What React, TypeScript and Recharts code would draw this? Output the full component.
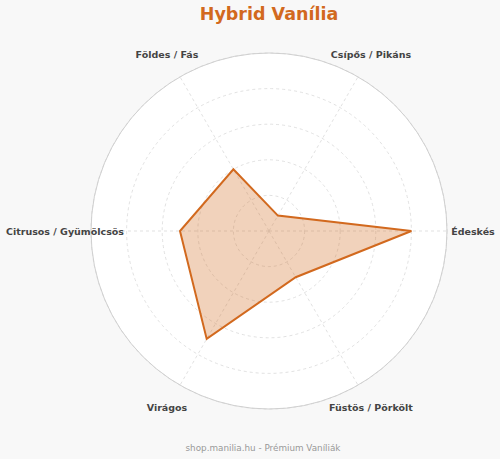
import { RadarChart, Radar, PolarGrid, PolarAngleAxis, PolarRadiusAxis } from "recharts";

// listed clockwise from the right-hand spoke
const flavors = [
  "Édeskés",
  "Füstös / Pörkölt",
  "Virágos",
  "Citrusos / Gyümölcsös",
  "Földes / Fás",
  "Csípős / Pikáns",
];
const scores = [8, 3, 7, 5, 4, 1];
const scoreMax = 10;

const title = "Hybrid Vanília";
const footer = "shop.manilia.hu - Prémium Vaníliák";

const data = flavors.map((flavor, i) => ({ flavor, score: scores[i] }));

const W = 500;
const H = 459;
const CX = 269;
const CY = 231;
const R = 178;
const LABEL_R = 204;
const ORANGE = "#d2691e";
const FONT = "'DejaVu Sans', sans-serif";

// push the label out along the direction recharts gives for the tick
function FlavorTick(props: any) {
  const dx = props.x - CX;
  const dy = props.y - CY;
  const d = Math.hypot(dx, dy) || 1;
  const x = CX + (LABEL_R * dx) / d;
  const y = CY + (LABEL_R * dy) / d;
  return (
    <text
      x={x}
      y={y}
      textAnchor="middle"
      dominantBaseline="central"
      fontFamily={FONT}
      fontSize={9.5}
      fontWeight="bold"
      fill="#444"
    >
      {props.payload.value}
    </text>
  );
}

export default function App() {
  return (
    <div
      style={{
        position: "absolute",
        left: 0,
        top: 0,
        width: W,
        height: H,
        background: "#f8f8f8",
        overflow: "hidden",
      }}
    >
      {/* white disc behind the polar area */}
      <div
        style={{
          position: "absolute",
          left: CX - R,
          top: CY - R,
          width: R * 2,
          height: R * 2,
          borderRadius: "50%",
          background: "#fff",
        }}
      />
      <div style={{ position: "absolute", left: 0, top: 0 }}>
        <RadarChart
          width={W}
          height={H}
          data={data}
          cx={CX}
          cy={CY}
          outerRadius={R}
          startAngle={0}
          endAngle={-360}
          margin={{ top: 0, right: 0, bottom: 0, left: 0 }}
        >
          <PolarGrid gridType="circle" stroke="#d9d9d9" strokeDasharray="3 3" strokeWidth={0.8} />
          <PolarGrid gridType="circle" polarRadius={[R]} radialLines={false} stroke="#d0d0d0" strokeWidth={1} />
          <PolarAngleAxis dataKey="flavor" tick={<FlavorTick />} tickLine={false} axisLine={false} />
          <PolarRadiusAxis domain={[0, scoreMax]} tickCount={6} tick={false} axisLine={false} />
          <Radar
            dataKey="score"
            stroke={ORANGE}
            strokeWidth={2}
            fill={ORANGE}
            fillOpacity={0.3}
            dot={false}
            isAnimationActive={false}
          />
        </RadarChart>
      </div>
      <svg
        width={W}
        height={H}
        style={{ position: "absolute", left: 0, top: 0, pointerEvents: "none" }}
      >
        <text
          x={CX}
          y={20}
          textAnchor="middle"
          fontFamily={FONT}
          fontSize={17.5}
          fontWeight="bold"
          fill={ORANGE}
        >
          {title}
        </text>
        <text x={263} y={451} textAnchor="middle" fontFamily={FONT} fontSize={8.8} fill="#999">
          {footer}
        </text>
      </svg>
    </div>
  );
}
